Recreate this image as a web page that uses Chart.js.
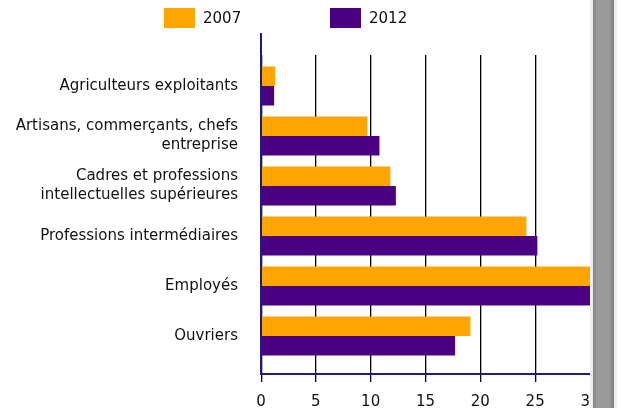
<!DOCTYPE html>
<html>
<head>
<meta charset="utf-8">
<script src="https://cdn.jsdelivr.net/npm/chart.js@4.4.0/dist/chart.umd.min.js"></script>
<style>
    body { margin: 0; background: #fff; font-family: 'DejaVu Sans', Verdana, sans-serif; }
    #wrap { position: relative; width: 622px; height: 408px; overflow: hidden; }
    #clip { position: absolute; left: 0; top: 0; width: 590px; height: 408px; overflow: hidden; }
    #box { position: absolute; left: 0; top: 0; width: 640px; height: 408px; }
    #legend { position: absolute; left: 164px; top: 8px; display: flex; }
    .item { display: flex; align-items: center; width: 166px; height: 20px; font-size: 15px; color: #111; }
    .sw { width: 31px; height: 20px; margin-right: 8px; }
    #scroll {
        position: absolute; left: 590px; top: 0; width: 27px; height: 408px;
        background: linear-gradient(to right, #efefef 0, #efefef 3px, #858585 3px, #9a9a9a 7px,
            #9a9a9a 19px, #7e7e7e 24px, #eeeeee 24px, #eeeeee 27px);
    }
</style>
</head>
<body>
<div id="wrap">
    <div id="clip">
        <div id="box"><canvas id="chart" width="640" height="408"></canvas></div>
        <div id="legend"></div>
    </div>
    <div id="scroll"></div>
</div>
<script>
// Données (en %)
const categories = [
    'Agriculteurs exploitants',
    ['Artisans, commerçants, chefs', 'entreprise'],
    ['Cadres et professions', 'intellectuelles supérieures'],
    'Professions intermédiaires',
    'Employés',
    'Ouvriers'
];
const seriesNames = ['2007', '2012'];
const values2007 = [1.3, 9.7, 11.8, 24.2, 30.6, 19.1];
const values2012 = [1.2, 10.8, 12.3, 25.2, 30.9, 17.7];
const xTicks = [0, 5, 10, 15, 20, 25, 30];

const colors = ['#ffa500', '#4b0082'];
const navy = '#1c1c80';

// même alignement que Chart.js pour un trait de 1px
const align = p => Math.round(p - 0.5) + 0.5;

// Ombre grise à droite des lignes de grille
const gridShade = {
    id: 'gridShade',
    beforeDatasetsDraw(chart) {
        const { ctx, chartArea: a, scales: { x } } = chart;
        ctx.save();
        ctx.strokeStyle = '#b0b0b0';
        ctx.lineWidth = 1;
        x.ticks.forEach(t => {
            const px = align(x.getPixelForValue(t.value)) + 1;
            ctx.beginPath();
            ctx.moveTo(px, a.top - 6);
            ctx.lineTo(px, a.bottom + 21);
            ctx.stroke();
        });
        ctx.restore();
    }
};

// Axes (traits bleus) + prolongement des lignes de grille
const axisLines = {
    id: 'axisLines',
    afterDatasetsDraw(chart) {
        const { ctx, chartArea: a, scales: { x } } = chart;
        ctx.save();
        ctx.strokeStyle = '#000';
        ctx.lineWidth = 1;
        x.ticks.forEach(t => {
            const px = align(x.getPixelForValue(t.value));
            ctx.beginPath();
            ctx.moveTo(px, a.top - 6);
            ctx.lineTo(px, a.top);
            ctx.stroke();
        });
        ctx.strokeStyle = navy;
        ctx.lineWidth = 2;
        const x0 = x.getPixelForValue(0);
        ctx.beginPath();
        ctx.moveTo(x0, a.top - 28);
        ctx.lineTo(x0, a.bottom + 13);
        ctx.lineTo(a.right, a.bottom + 13);
        ctx.stroke();
        ctx.restore();
    }
};

const chart = new Chart(document.getElementById('chart'), {
    type: 'bar',
    data: {
        labels: categories,
        datasets: [
            { label: seriesNames[0], data: values2007, backgroundColor: colors[0] },
            { label: seriesNames[1], data: values2012, backgroundColor: colors[1] }
        ]
    },
    options: {
        indexAxis: 'y',
        responsive: false,
        animation: false,
        devicePixelRatio: 1,
        layout: { padding: { top: 61, right: 50, bottom: 0, left: 0 } },
        datasets: { bar: { categoryPercentage: 0.78, barPercentage: 1 } },
        plugins: { legend: { display: false }, tooltip: { enabled: false } },
        scales: {
            x: {
                min: 0, max: 30,
                afterBuildTicks: s => { s.ticks = xTicks.map(v => ({ value: v })); },
                afterFit: s => { s.height = 47; },
                grid: { color: '#000', lineWidth: 1, tickLength: 21, tickColor: '#000' },
                border: { display: false },
                ticks: { color: '#111', font: { family: "'DejaVu Sans'", size: 15 }, padding: 11, maxRotation: 0 }
            },
            y: {
                afterFit: s => { s.width = 261; },
                grid: { display: false },
                border: { display: false },
                ticks: { color: '#111', padding: 15, font: { family: "'DejaVu Sans'", size: 15, lineHeight: 1.27 } }
            }
        }
    },
    plugins: [gridShade, axisLines]
});

// Légende HTML
const legend = document.getElementById('legend');
chart.data.datasets.forEach(ds => {
    const item = document.createElement('div');
    item.className = 'item';
    item.innerHTML = `<span class="sw" style="background:${ds.backgroundColor}"></span>${ds.label}`;
    legend.appendChild(item);
});
</script>
</body>
</html>
